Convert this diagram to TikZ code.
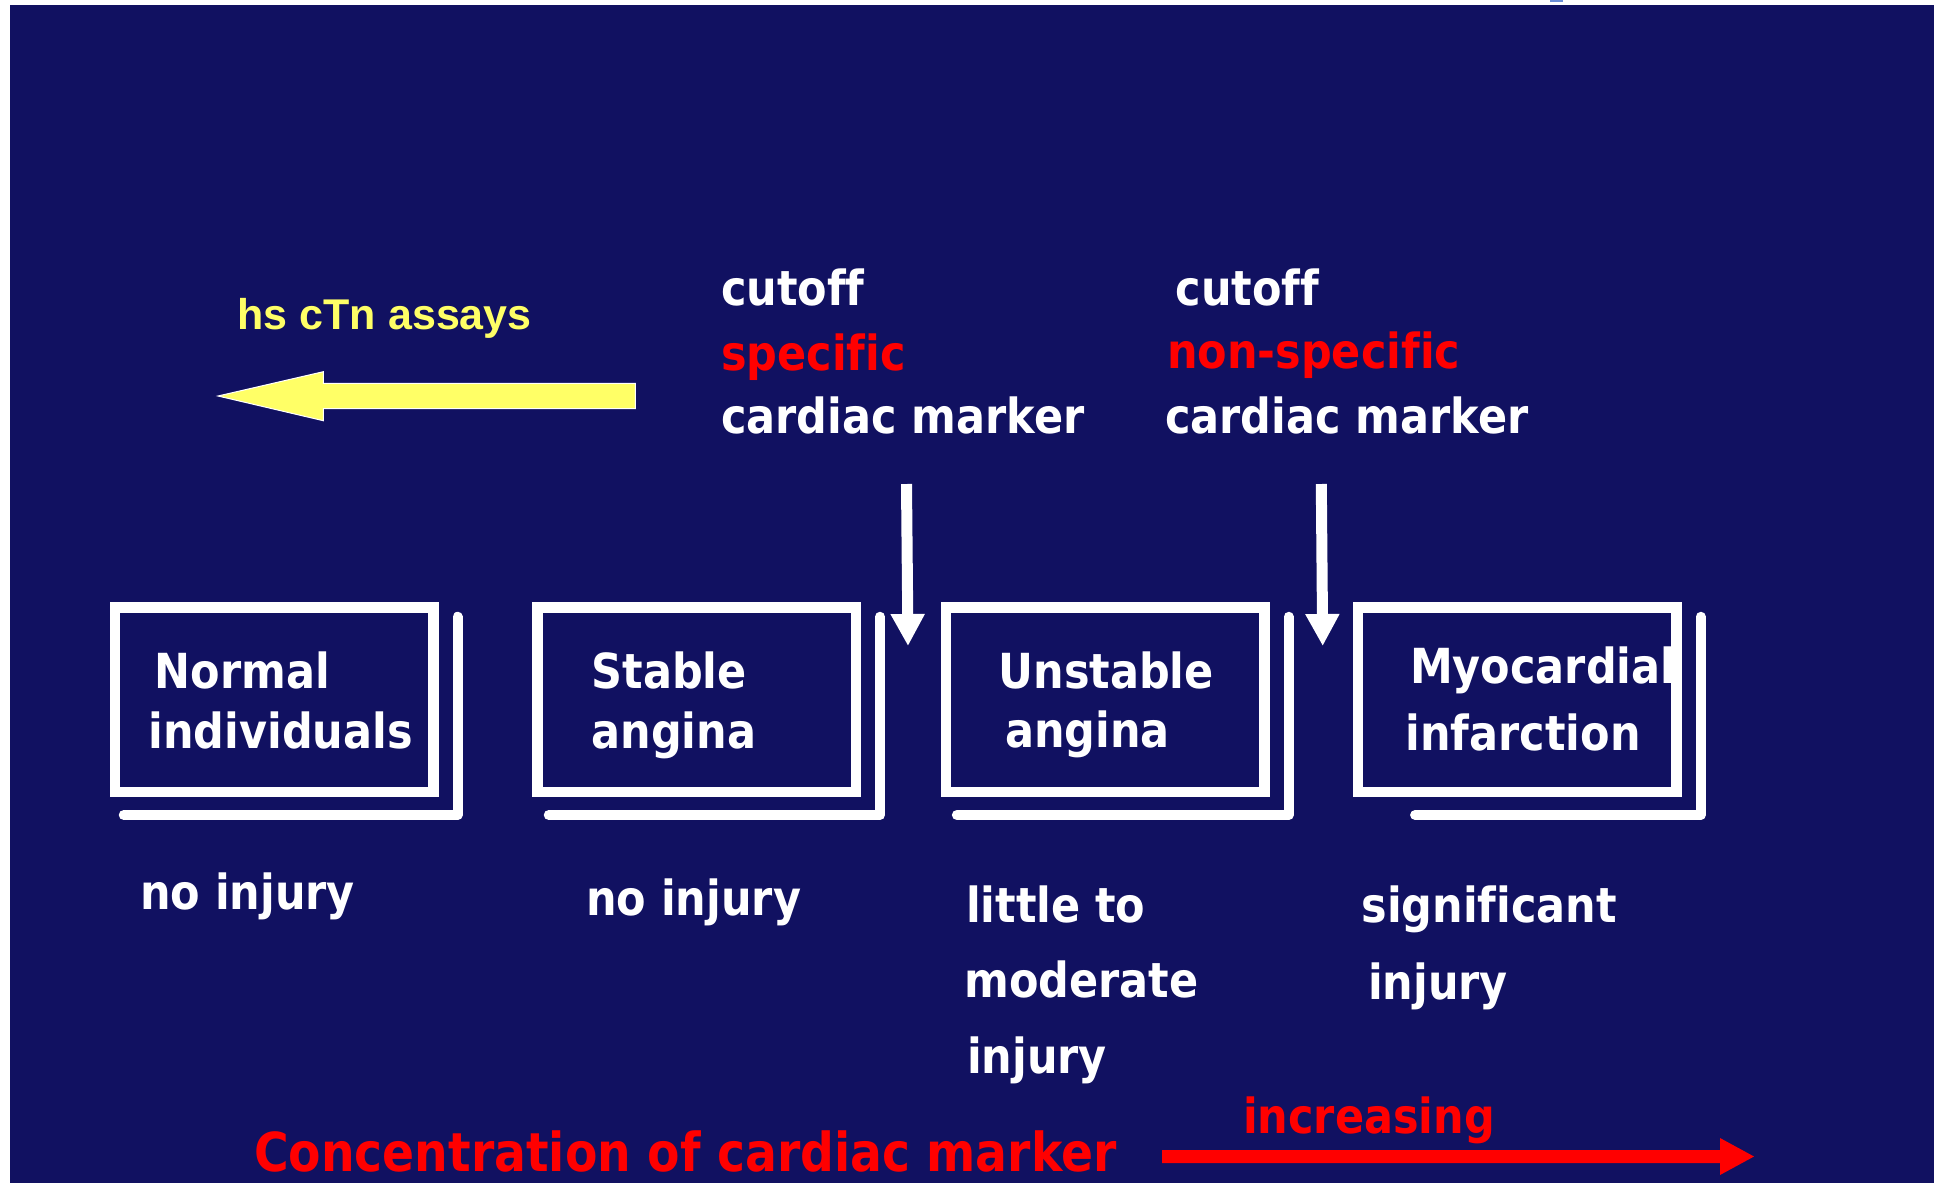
\documentclass[tikz,border=0pt]{standalone}
\usepackage{fontspec}
\newfontfamily\tahfont{DejaVu Sans}[FakeStretch=0.89, Ligatures=NoCommon]
\newfontfamily\tahnarrow{DejaVu Sans}[FakeStretch=0.88, Ligatures=NoCommon]
\newfontfamily\arialfont{Liberation Sans}
\usetikzlibrary{arrows.meta,calc}
\definecolor{navy}{RGB}{17,17,97}
\definecolor{hsyellow}{RGB}{255,255,102}
\definecolor{topmarkblue}{RGB}{107,142,214}
\tikzset{
  maintext/.style={font=\tahfont\bfseries\fontsize{48.3}{58}\selectfont, text=white, anchor=base west, inner sep=0pt, outer sep=0pt},
  redtext/.style={maintext, text=red},
  bigred/.style={maintext, text=red, font=\tahnarrow\bfseries\fontsize{53.7}{64}\selectfont},
  hstext/.style={font=\arialfont\bfseries\fontsize{43}{52}\selectfont, text=hsyellow, anchor=base west, inner sep=0pt},
  stagebox/.style={draw=white, line width=10.5pt, minimum width=318.5pt, minimum height=184.5pt, inner sep=0pt, outer sep=0pt},
  shadowline/.style={draw=white, line width=10pt, line cap=round, line join=round},
  whitearrow/.style={draw=white, line width=11pt, -{Triangle[length=32pt,width=32pt]}},
}
\begin{document}
\begin{tikzpicture}[x=1pt,y=-1pt]
\useasboundingbox (0,0) rectangle (1934,1183);
\fill[white] (0,0) rectangle (1934,1183);
\fill[navy] (10,5) rectangle (1934,1183);
\fill[topmarkblue] (1550,0) rectangle (1563,1.5);

% yellow arrow and label
\node[hstext] (hs) at (237.5,329) {hs cTn assays};
\filldraw[fill=hsyellow, draw=white, line width=1pt]
  (218,396) -- (323.3,371.7) -- (323.3,383.3) -- (635.3,383.3) -- (635.3,408.7)
  -- (323.3,408.7) -- (323.3,420.7) -- cycle;

% cutoff labels
\node[maintext] (cutA) at (721,305) {cutoff};
\node[redtext]  (specA) at (721,370) {specific};
\node[maintext] (cardA) at (721,433) {cardiac marker};
\node[maintext] (cutB) at (1175.5,305) {cutoff};
\node[redtext]  (specB) at (1167,368) {non-specific};
\node[maintext] (cardB) at (1165,433) {cardiac marker};

% stage boxes
\node[stagebox] (b1) at (274,699.5) {};
\node[stagebox] (b2) at (696.5,699.5) {};
\node[stagebox] (b3) at (1105.1,699.5) {};
\node[stagebox] (b4) at (1517.3,699.5) {};

\foreach \b/\d in {b1/9,b2/11.5,b3/11,b4/57}{
  \draw[shadowline] ($(\b.south west)+(\d,23.25)$) -- ($(\b.south east)+(24.25,23.25)$) -- ($(\b.north east)+(24.25,9.5)$);
}

\node[maintext] (t1a) at (154.5,688) {Normal};
\node[maintext] (t1b) at (148.5,748) {individuals};
\node[maintext] (t2a) at (591.5,688) {Stable};
\node[maintext] (t2b) at (591.5,748) {angina};
\node[maintext] (t3a) at (998.5,688) {Unstable};
\node[maintext] (t3b) at (1005,747) {angina};
\node[maintext] (t4a) at (1410,683) {Myocardial};
\node[maintext] (t4b) at (1405.5,750) {infarction};

% cutoff arrows
\coordinate (aAs) at (906.5,484);
\coordinate (aAe) at (908,646);
\coordinate (aBs) at (1321.3,484);
\coordinate (aBe) at (1322.7,646);
\draw[whitearrow] (aAs) -- (aAe);
\draw[whitearrow] (aBs) -- (aBe);

% injury labels
\node[maintext] (i1) at (140,909) {no injury};
\node[maintext] (i2) at (586,915) {no injury};
\node[maintext] (i3a) at (966,922) {little to};
\node[maintext] (i3b) at (964.5,997) {moderate};
\node[maintext] (i3c) at (967,1073) {injury};
\node[maintext] (i4a) at (1361.5,922) {significant};
\node[maintext] (i4b) at (1368,999) {injury};

% bottom axis
\node[bigred] (conc) at (254,1171.5) {Concentration of cardiac marker};
\node[redtext] (incr) at (1243,1133) {increasing};
\fill[red] (1162,1150) -- (1720,1150) -- (1720,1138) -- (1754,1156.5)
  -- (1720,1175) -- (1720,1163) -- (1162,1163) -- cycle;
\end{tikzpicture}
\end{document}
